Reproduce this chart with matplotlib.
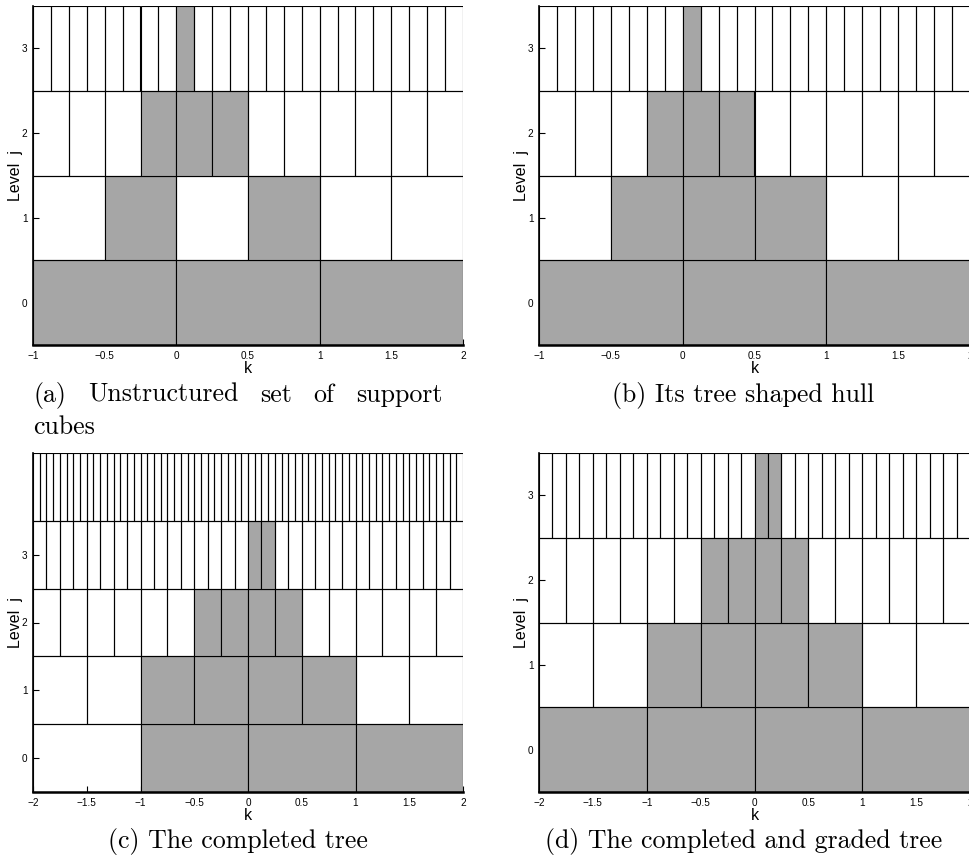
import matplotlib

matplotlib.use('agg')
import matplotlib.pyplot as plt
from matplotlib.patches import Rectangle

W, H = 969, 861
GRAY = '#a6a6a6'

# shaded cube indices k per level j (cube covers [k*2^-j, (k+1)*2^-j])
shaded_a = [[-1, 0, 1], [-1, 1], [-1, 0, 1], [0]]
shaded_b = [[-1, 0, 1], [-1, 0, 1], [-1, 0, 1], [0]]
shaded_c = [[-1, 0, 1], [-2, -1, 0, 1], [-2, -1, 0, 1], [0, 1], []]
shaded_d = [[-2, -1, 0, 1], [-2, -1, 0, 1], [-2, -1, 0, 1], [0, 1]]

k_range_ab = (-1, 2)
k_range_cd = (-2, 2)
k_ticks_ab = [-1, -0.5, 0, 0.5, 1, 1.5, 2]
k_ticks_cd = [-2, -1.5, -1, -0.5, 0, 0.5, 1, 1.5, 2]
level_ticks = [0, 1, 2, 3]

caption_a_line1 = ['(a)', 'Unstructured', 'set', 'of', 'support']
caption_a_line2 = 'cubes'
caption_b = '(b) Its tree shaped hull'
caption_c = '(c) The completed tree'
caption_d = '(d) The completed and graded tree'


def fmt(v):
    return ('%g' % v).replace('-', '\u2212')


def draw_tree(ax, shaded, k_range, k_ticks):
    kmin, kmax = k_range
    for j, marked in enumerate(shaded):
        n = 2 ** j
        for k in range(kmin * n, kmax * n):
            fc = GRAY if k in marked else 'none'
            ax.add_patch(Rectangle((k / n, j - 0.5), 1 / n, 1, facecolor=fc,
                                   edgecolor='black', linewidth=0.8, zorder=2))
    ax.set_xlim(kmin, kmax)
    ax.set_ylim(-0.5, len(shaded) - 0.5)
    ax.set_xticks(k_ticks)
    ax.set_xticklabels([fmt(v) for v in k_ticks])
    ax.set_yticks(level_ticks)
    ax.set_yticklabels([fmt(v) for v in level_ticks])
    ax.set_axisbelow(True)
    ax.tick_params(direction='in', length=4, width=0.8, labelsize=7.2,
                   pad=4, top=False, right=False)
    for s in ['top', 'right']:
        ax.spines[s].set_visible(False)
    ax.spines['bottom'].set_linewidth(1.8)
    ax.spines['left'].set_linewidth(1.2)
    for s in ['bottom', 'left']:
        ax.spines[s].set_zorder(3)
    ax.set_xlabel('k', fontsize=11.5, labelpad=0)
    ax.set_ylabel('Level  j', fontsize=11.5, labelpad=-1)


def axes_px(fig, left, top, right, bottom):
    return fig.add_axes([left / W, 1 - bottom / H, (right - left) / W, (bottom - top) / H])


def caption(fig, x, y, s, ha='center'):
    return fig.text(x / W, 1 - y / H, s, ha=ha, va='baseline', fontsize=18.6, family='cmr10')


def justified(fig, words, x0, x1, y):
    # spread the words over [x0, x1] with equal gaps
    texts = [caption(fig, x0, y, w, ha='left') for w in words]
    r = fig.canvas.get_renderer()
    widths = [t.get_window_extent(r).width for t in texts]
    gap = (x1 - x0 - sum(widths)) / (len(words) - 1)
    x = x0
    for t, w in zip(texts, widths):
        t.set_x(x / W)
        x += w + gap


plt.rcParams['font.family'] = ['Liberation Sans', 'DejaVu Sans']

fig = plt.figure(figsize=(W / 100, H / 100), dpi=100)

ax_a = axes_px(fig, 33, 6, 463, 345)
draw_tree(ax_a, shaded_a, k_range_ab, k_ticks_ab)
ax_b = axes_px(fig, 539, 6, 970, 345)
draw_tree(ax_b, shaded_b, k_range_ab, k_ticks_ab)
ax_c = axes_px(fig, 33, 453, 463, 792)
draw_tree(ax_c, shaded_c, k_range_cd, k_ticks_cd)
ax_d = axes_px(fig, 539, 453, 970, 792)
draw_tree(ax_d, shaded_d, k_range_cd, k_ticks_cd)

justified(fig, caption_a_line1, 33, 443, 402)
caption(fig, 33, 434, caption_a_line2, ha='left')
caption(fig, 743, 402, caption_b)
caption(fig, 238, 848, caption_c)
caption(fig, 744, 848, caption_d)

fig.savefig('out.png', dpi=100)
